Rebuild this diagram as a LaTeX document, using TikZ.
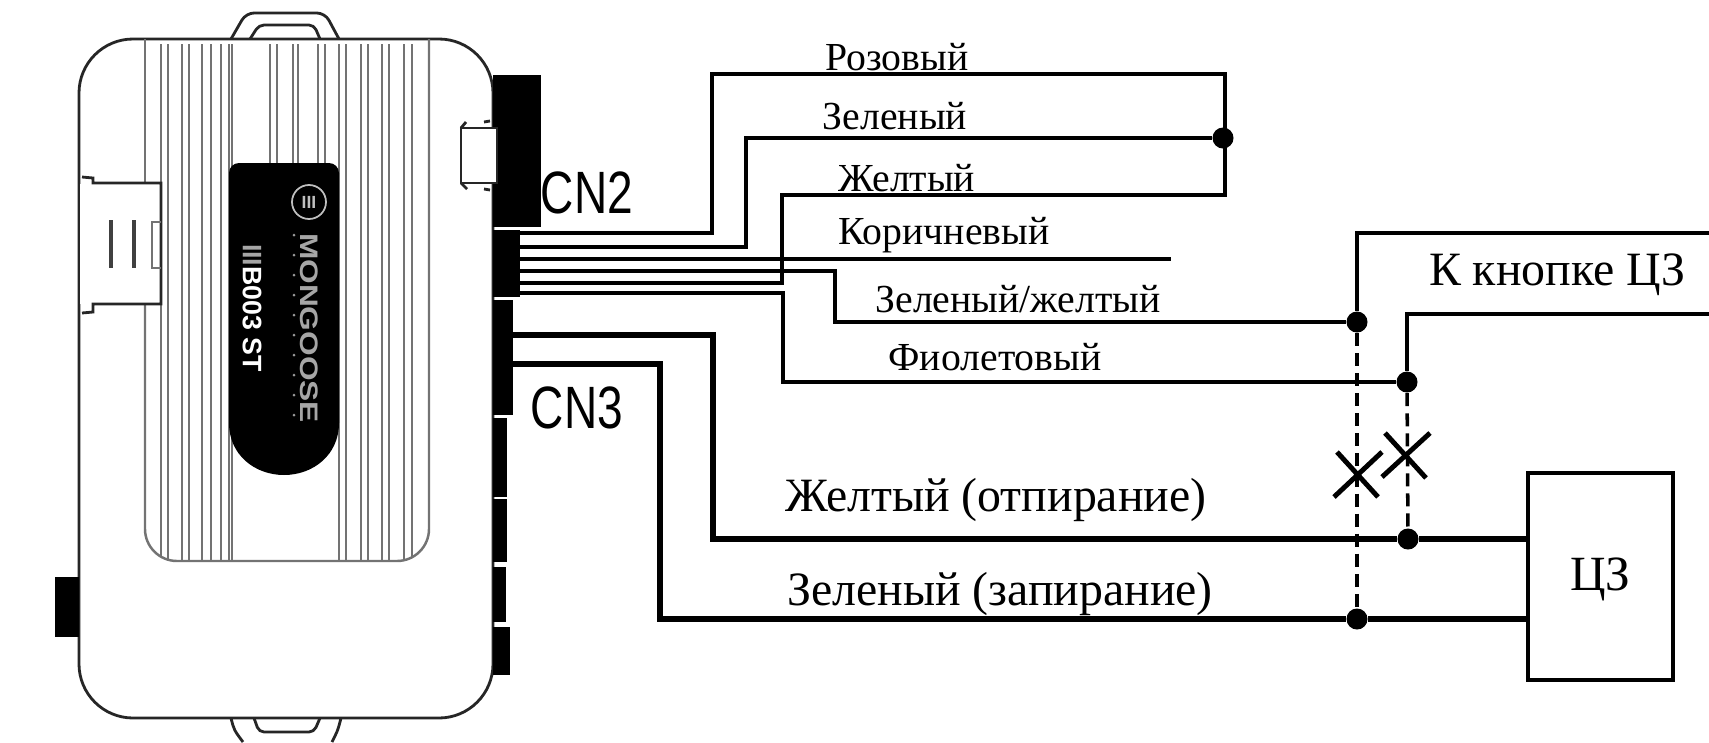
\documentclass[tikz,border=0pt]{standalone}
\usepackage{fontspec}
\setmainfont{Liberation Serif}
\setsansfont{Liberation Sans}
\tikzset{
  wire/.style={line width=1pt},
  thickwire/.style={line width=1.7pt},
  rib/.style={line width=0.7pt, black!55},
  outline/.style={line width=0.8pt, black!85},
  junction/.style={circle, fill=black, inner sep=0pt, minimum size=0.21cm},
  cut/.style={line width=1.4pt},
  dashlink/.style={line width=1pt, dash pattern=on 3.7pt off 2pt},
  wirelabel/.style={font=\fontsize{11.3pt}{13pt}\selectfont},
  biglabel/.style={font=\fontsize{13.6pt}{15pt}\selectfont},
  cnlabel/.style={font=\sffamily\fontsize{17pt}{19pt}\selectfont, xscale=0.77}
}
\begin{document}
\begin{tikzpicture}[x=0.01cm,y=-0.01cm]
\useasboundingbox (0,0) rectangle (1709,742);

% Draw the handles
\draw[outline, rounded corners=0.08cm] (231,39) -- (246,13) -- (325,13) -- (339,39);
\draw[outline, rounded corners=0.05cm] (250,39) -- (259,25) -- (314,25) -- (320,39);
\draw[outline] (231,718) .. controls (234,730) .. (243,742);
\draw[outline] (341,718) .. controls (338,730) .. (332,742);
\draw[outline, rounded corners=0.05cm] (254,718) -- (259,732) -- (314,732) -- (320,718);

% Draw the case
\draw[outline, fill=white, rounded corners=0.54cm] (79,39) rectangle (493,718);

% Draw the panel with its ribs
\draw[rib] (145,39) -- (145,183);
\draw[rib, rounded corners=0.32cm] (145,305) -- (145,561) -- (429,561) -- (429,39);
\begin{scope}
\clip[rounded corners=0.32cm] (145,0) rectangle (429,561);
\foreach \ribx in {161,168,182,189,202,211,221,229,232,339,346,361,368,382,389,404,412}
  \draw[rib] (\ribx,44) -- (\ribx,561);
\foreach \ribx in {270,277,293,298,318,325}
  \draw[rib] (\ribx,44) -- (\ribx,165);
\end{scope}

% Draw the clip on the left
\fill[white] (80,184) rectangle (161,304);
\draw[outline] (82,177) -- (93,178) -- (93,183) -- (161,183) -- (161,304) -- (93,304) -- (93,312) -- (82,313);
\draw[line width=1.1pt, black!75] (111,220) -- (111,268);
\draw[line width=1.1pt, black!75] (134,220) -- (134,268);
\draw[rib] (161,222) -- (152,222) -- (152,268) -- (161,268);

% Draw the black label
\fill[rounded corners=0.1cm] (229,300) -- (229,163) -- (339,163) -- (339,300);
\fill (229,290) -- (229,423) .. controls (229,455) and (255,475) .. (284,475)
  .. controls (313,475) and (339,455) .. (339,423) -- (339,290) -- cycle;
\draw[white!75!black, line width=0.5pt] (309,202) circle[radius=17];
\node[text=white!75!black, font=\sffamily\bfseries\fontsize{5pt}{5pt}\selectfont] (logomark) at (309,202) {III};
\node[rotate=-90, xscale=1.25, text=white!65!black, font=\sffamily\bfseries\fontsize{7.2pt}{8pt}\selectfont] (logotext) at (309,328) {MONGOOSE};
\node[rotate=-90, text=white, font=\sffamily\bfseries\fontsize{7.6pt}{8pt}\selectfont] (modeltext) at (252,308) {{\color{white!65!black}III}B003 ST};
\foreach \doty in {235,255,...,423}
  \fill[white!60!black] (294,\doty) circle[radius=1.5];

% Draw the connectors
\fill[black] (493,75) rectangle (541,227);
\fill[black] (493,230) rectangle (520,297);
\fill[black] (493,300) rectangle (513,415);
\fill[black] (493,418) rectangle (507,497);
\fill[black] (493,499) rectangle (507,562);
\fill[black] (493,567) rectangle (506,622);
\fill[black] (493,627) rectangle (510,675);
\fill[black] (55,577) rectangle (79,637);

% Draw the window in the case
\draw[outline, fill=white] (461,128) rectangle (497,183);
\draw[outline] (461,128) -- (466,122) (484,122) -- (490,121);
\draw[outline] (461,183) -- (467,189) (484,189) -- (490,190);

% Name the pins and the blocks
\coordinate (pinpink) at (515,233);
\coordinate (pingreen) at (515,247);
\coordinate (pinbrown) at (515,259);
\coordinate (pingy) at (515,271);
\coordinate (pinyellow) at (515,283);
\coordinate (pinviolet) at (515,293);
\coordinate (pinopen) at (510,335);
\coordinate (pinlock) at (510,364);
\coordinate (brownend) at (1171,259);
\coordinate (buttonone) at (1709,233);
\coordinate (buttontwo) at (1709,314);
\node[draw, line width=1.1pt, minimum width=1.45cm, minimum height=2.07cm, inner sep=0pt, text height=8.1pt, text depth=0pt, font=\fontsize{14pt}{15pt}\selectfont] (lockbox) at (1600.5,576.5) {ЦЗ};
\node[junction] (dotgreen) at (1223,138) {};
\node[junction] (dotgy) at (1357,322) {};
\node[junction] (dotviolet) at (1407,382) {};
\node[junction] (dotopen) at (1408,539) {};
\node[junction] (dotlock) at (1357,619) {};

% Draw the wires
\draw[wire] (pinpink) -- (712,233) -- (712,74) -- (1225,74) -- (1225,195) -- (782,195) -- (782,283) -- (pinyellow);
\draw[wire] (pingreen) -- (746,247) -- (746,138) -- (dotgreen);
\draw[wire] (pinbrown) -- (brownend);
\draw[wire] (pingy) -- (835,271) -- (835,322) -- (dotgy);
\draw[wire] (pinviolet) -- (783,293) -- (783,382) -- (dotviolet);
\draw[wire] (dotgy) -- (1357,233) -- (buttonone);
\draw[wire] (dotviolet) -- (1407,314) -- (buttontwo);
\draw[thickwire] (pinopen) -- (713,335) -- (713,539) -- (dotopen) -- (lockbox.west |- dotopen);
\draw[thickwire] (pinlock) -- (660,364) -- (660,619) -- (dotlock) -- (lockbox.west |- dotlock);

% Draw the dashed links and the cuts
\draw[dashlink] (dotgy) -- (dotlock);
\draw[dashlink] (dotviolet) -- (dotopen);
\draw[cut] (1334,497) -- (1382,452) (1337,452) -- (1378,497);
\draw[cut] (1382,477) -- (1430,433) (1385,433) -- (1426,478);

% Write the labels
\node[wirelabel] (pinktext) at (897,57) {Розовый};
\node[wirelabel] (greentext) at (895,116) {Зеленый};
\node[wirelabel] (yellowtext) at (907,178) {Желтый};
\node[wirelabel] (browntext) at (944,235) {Коричневый};
\node[wirelabel] (gytext) at (1018,299) {Зеленый/желтый};
\node[wirelabel] (violettext) at (995,357) {Фиолетовый};
\node[biglabel] (buttontext) at (1557,275) {К кнопке ЦЗ};
\node[biglabel] (opentext) at (996,500) {Желтый (отпирание)};
\node[biglabel] (locktext) at (1000,594) {Зеленый (запирание)};
\node[cnlabel] (cntwo) at (587,193) {CN2};
\node[cnlabel] (cnthree) at (577,408) {CN3};

\end{tikzpicture}
\end{document}
